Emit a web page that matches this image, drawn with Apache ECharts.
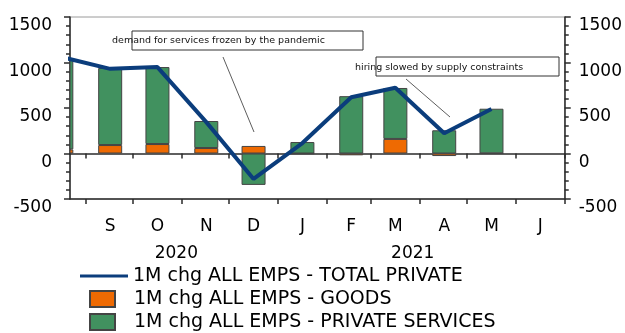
<!DOCTYPE html>
<html>
<head>
<meta charset="utf-8">
<script src="https://cdn.jsdelivr.net/npm/echarts@6/dist/echarts.min.js"></script>
<style>
  html, body { margin: 0; padding: 0; background: #ffffff; }
  #chart { width: 625px; height: 333px; }
</style>
</head>
<body>
<div id="chart"></div>
<script>
// monthly data, plotted mid-month
var months = ["2020-08", "2020-09", "2020-10", "2020-11", "2020-12", "2021-01", "2021-02", "2021-03", "2021-04", "2021-05"];
var totalPrivate = [1060, 930, 950, 345, -280, 115, 618, 722, 222, 489];
var goods = [45, 93, 104, 60, 83, -3, -20, 160, -28, 2];
var services = [985, 847, 846, 297, -345, 126, 630, 560, 255, 490];

// axis ticks / labels
var monthLetters = { "09": "S", "10": "O", "11": "N", "12": "D", "01": "J", "02": "F", "03": "M", "04": "A", "05": "M", "06": "J" };
var yearLabels = { "2020-10-28": "2020", "2021-03-27": "2021" };

var names = ["1M chg ALL EMPS - TOTAL PRIVATE", "1M chg ALL EMPS - GOODS", "1M chg ALL EMPS - PRIVATE SERVICES"];

// daily category axis, Aug 2020 to 1 Jul 2021; the visible window starts 22 Aug
var days = [];
for (var t = Date.UTC(2020, 7, 1); t <= Date.UTC(2021, 6, 1); t += 864e5) {
  days.push(new Date(t).toISOString().slice(0, 10));
}

function seriesData(arr) {
  var byDay = {};
  months.forEach(function (m, i) { byDay[m + "-16"] = arr[i]; });
  return days.map(function (d) { return d in byDay ? byDay[d] : null; });
}

var font = "DejaVu Sans";
var axisCol = "#2b2b2b";
var lineSt = { color: axisCol, width: 1.5 };

function isMonthStart(i, v) { var m = v.slice(5, 7); return v.slice(8) === "01" && m !== "07" && m !== "08"; }
function isMidMonth(i, v) { return v.slice(8) === "16" && v.slice(5, 7) !== "08"; }
function isYearPos(i, v) { return v in yearLabels; }

var chart = echarts.init(document.getElementById("chart"));

function xAxisOf(extra) {
  return Object.assign({
    type: "category",
    data: days,
    position: "bottom",
    splitLine: { show: false },
    axisPointer: { show: false }
  }, extra);
}

var yBase = {
  type: "value",
  min: -500,
  max: 1500,
  interval: 500,
  splitLine: { show: false },
  axisLine: { show: true, lineStyle: lineSt },
  axisTick: { show: true, length: 6, lineStyle: lineSt },
  minorTick: { show: true, splitNumber: 5, length: 4, lineStyle: lineSt },
  axisLabel: {
    color: "#000", fontFamily: font, fontSize: 17,
    verticalAlign: "top", lineHeight: 18,
    formatter: function (v) { return String(v); }
  }
};

function legendFor(name, top, left, w, h, pad) {
  return {
    data: [name],
    left: left, top: top,
    padding: 0,
    icon: "rect",
    itemWidth: w, itemHeight: h,
    textStyle: { fontFamily: font, fontSize: 19, color: "#000", lineHeight: 20, padding: [0, 0, 0, pad] }
  };
}

var option = {
  animation: false,
  grid: {
    left: 70, right: 60, top: 17, bottom: 134,
    show: true, borderColor: "#9a9a9a", borderWidth: 1
  },
  legend: [
    legendFor(names[0], 266, 80, 48, 3, 0),
    legendFor(names[1], 289, 89, 25, 16, 14),
    legendFor(names[2], 312, 89, 25, 16, 14)
  ],
  dataZoom: [
    {
      type: "inside",
      xAxisIndex: [0, 1, 2],
      startValue: "2020-08-22",
      endValue: "2021-07-01",
      filterMode: "none",
      zoomLock: true,
      moveOnMouseMove: false,
      zoomOnMouseWheel: false
    }
  ],
  xAxis: [
    // zero line with month ticks
    xAxisOf({
      axisLine: { onZero: true, lineStyle: lineSt },
      axisTick: { show: true, length: 5, interval: isMonthStart, lineStyle: lineSt },
      axisLabel: { show: false }
    }),
    // bottom axis with month letters
    xAxisOf({
      axisLine: { onZero: false, lineStyle: lineSt },
      axisTick: { show: true, length: 5, interval: isMonthStart, lineStyle: lineSt },
      axisLabel: {
        show: true, interval: isMidMonth, margin: 19,
        color: "#000", fontFamily: font, fontSize: 17,
        formatter: function (v) { return monthLetters[v.slice(5, 7)]; }
      }
    }),
    // years
    xAxisOf({
      axisLine: { show: false, onZero: false },
      axisTick: { show: false },
      axisLabel: {
        show: true, interval: isYearPos, margin: 46,
        color: "#000", fontFamily: font, fontSize: 17,
        formatter: function (v) { return yearLabels[v]; }
      }
    })
  ],
  yAxis: [
    Object.assign({}, yBase, { position: "left", axisLabel: Object.assign({}, yBase.axisLabel, { margin: 18 }) }),
    Object.assign({}, yBase, { position: "right", axisLabel: Object.assign({}, yBase.axisLabel, { margin: 14 }) })
  ],
  series: [
    {
      name: names[1],
      type: "bar",
      stack: "emp",
      barWidth: 24,
      clip: true,
      data: seriesData(goods),
      itemStyle: { color: "#ee6a02", borderColor: "#444", borderWidth: 1 }
    },
    {
      name: names[2],
      type: "bar",
      stack: "emp",
      barWidth: 24,
      clip: true,
      data: seriesData(services),
      itemStyle: { color: "#41915f", borderColor: "#444", borderWidth: 1 }
    },
    {
      name: names[0],
      type: "line",
      symbol: "none",
      connectNulls: true,
      clip: true,
      z: 5,
      data: seriesData(totalPrivate),
      lineStyle: { color: "#0b3d7c", width: 4 },
      itemStyle: { color: "#0b3d7c" }
    }
  ],
  graphic: [
    { type: "rect", shape: { x: 132, y: 31, width: 231, height: 19 }, style: { fill: "none", stroke: "#333", lineWidth: 1 }, z: 10 },
    { type: "text", x: 112, y: 41, style: { text: "demand for services frozen by the pandemic", fontFamily: font, fontSize: 9.5, fill: "#111", verticalAlign: "middle" }, z: 10 },
    { type: "line", shape: { x1: 223, y1: 57, x2: 254, y2: 132 }, style: { stroke: "#333", lineWidth: 0.8 }, z: 10 },
    { type: "rect", shape: { x: 376, y: 57, width: 183, height: 19 }, style: { fill: "none", stroke: "#333", lineWidth: 1 }, z: 10 },
    { type: "text", x: 355, y: 68, style: { text: "hiring slowed by supply constraints", fontFamily: font, fontSize: 9.5, fill: "#111", verticalAlign: "middle" }, z: 10 },
    { type: "line", shape: { x1: 406, y1: 79, x2: 450, y2: 117 }, style: { stroke: "#333", lineWidth: 0.8 }, z: 10 }
  ]
};

chart.setOption(option);
</script>
</body>
</html>
